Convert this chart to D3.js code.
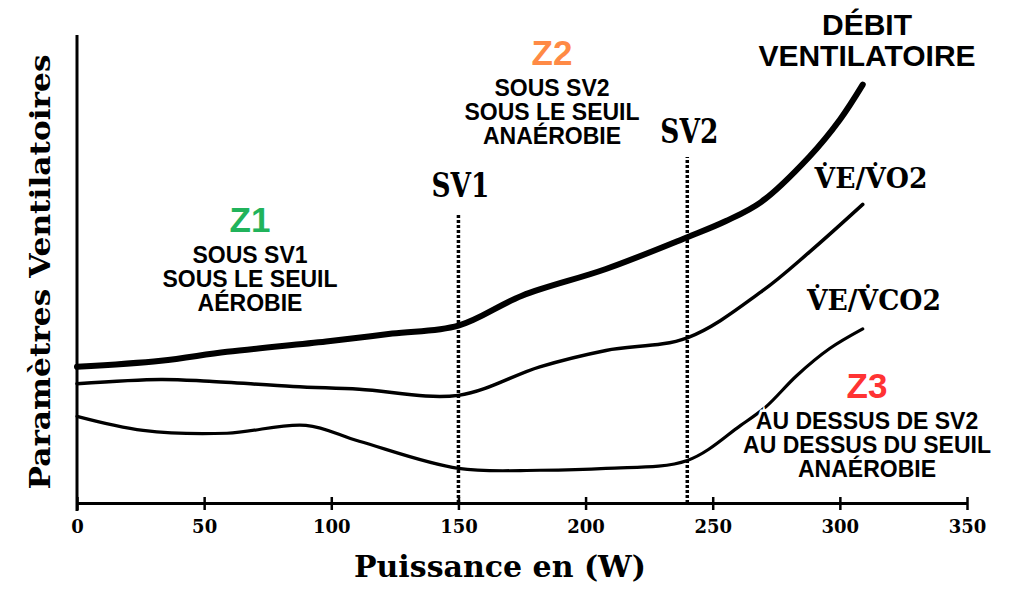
<!DOCTYPE html>
<html>
<head>
<meta charset="utf-8">
<script src="https://cdn.jsdelivr.net/npm/d3@7"></script>
<style>
  body { margin: 0; background: #fff; }
  svg { display: block; }
</style>
</head>
<body>
<div id="viz"></div>
<script>
const width = 1024;
const height = 594;

// x ticks (W)
const xTicks = [0, 50, 100, 150, 200, 250, 300, 350];

// thresholds
const thresholds = [
  {name: 'SV1', power: 150},
  {name: 'SV2', power: 240}
];

// Debit ventilatoire
const debitPower = [0, 33, 59, 98, 124, 150, 175, 208, 240, 255, 269, 288, 300, 309];
const debitValues = [29.1, 30.4, 32.3, 34.5, 36.2, 37.9, 44.3, 50, 56.8, 60.2, 64.3, 74, 81.9, 89.4];

// VE/VO2
const vo2Power = [0, 33, 52, 85, 111, 150, 182, 208, 240, 269, 288, 309];
const vo2Values = [25.5, 26.4, 26, 24.9, 24.3, 23, 29.1, 32.6, 35.3, 45.1, 53.6, 63.8];

// VE/VCO2
const vco2Power = [0, 26, 59, 90, 111, 150, 182, 208, 240, 261, 271, 283, 296, 309];
const vco2Values = [18.5, 15.5, 14.9, 16.6, 13.2, 7.4, 7, 7.4, 9.1, 16.6, 20.6, 27.2, 33, 37.2];

const svg = d3.select('#viz')
  .append('svg')
  .attr('width', width)
  .attr('height', height);

const xScale = d3.scaleLinear()
  .domain([0, 350])
  .range([77, 967]);

const yScale = d3.scaleLinear()
  .domain([0, 100])
  .range([503, 35]);

const serif = '"DejaVu Serif", serif';
const sans = '"Liberation Sans", Arial, sans-serif';

// x axis
const xAxis = svg.append('g')
  .attr('transform', `translate(0, ${yScale(0)})`)
  .call(d3.axisBottom(xScale).tickValues(xTicks).tickSize(7).tickPadding(10).tickSizeOuter(0));

xAxis.select('.domain').attr('stroke', '#000').attr('stroke-width', 3);
xAxis.selectAll('.tick line')
  .attr('y1', -6)
  .attr('stroke', '#000')
  .attr('stroke-width', 2.5);
xAxis.selectAll('.tick text')
  .attr('font-family', serif)
  .attr('font-weight', 'bold')
  .attr('font-size', 18)
  .attr('fill', '#000');

// y axis (no ticks)
svg.append('line')
  .attr('x1', xScale(0))
  .attr('x2', xScale(0))
  .attr('y1', yScale(0) + 8)
  .attr('y2', yScale(100))
  .attr('stroke', '#000')
  .attr('stroke-width', 3);

// axis titles
svg.append('text')
  .attr('x', 500)
  .attr('y', 577)
  .attr('text-anchor', 'middle')
  .attr('font-family', serif)
  .attr('font-weight', 'bold')
  .attr('font-size', 30)
  .text('Puissance en (W)');

svg.append('text')
  .attr('transform', 'translate(50, 272) rotate(-90)')
  .attr('text-anchor', 'middle')
  .attr('font-family', serif)
  .attr('font-weight', 'bold')
  .attr('font-size', 28)
  .attr('textLength', 435)
  .attr('lengthAdjust', 'spacingAndGlyphs')
  .text('Paramètres Ventilatoires');

// threshold lines
svg.selectAll('.threshold')
  .data(thresholds)
  .join('line')
  .attr('class', 'threshold')
  .attr('x1', d => xScale(d.power))
  .attr('x2', d => xScale(d.power))
  .attr('y1', yScale(0))
  .attr('y2', d => d.name === 'SV1' ? 213 : 157)
  .attr('stroke', '#000')
  .attr('stroke-width', 3.5)
  .attr('stroke-dasharray', '3,2');

svg.selectAll('.threshold-label')
  .data(thresholds)
  .join('text')
  .attr('class', 'threshold-label')
  .attr('transform', d => `translate(${xScale(d.power) + 2}, ${d.name === 'SV1' ? 197 : 143}) scale(0.8, 1)`)
  .attr('text-anchor', 'middle')
  .attr('font-family', serif)
  .attr('font-weight', 'bold')
  .attr('font-size', 33)
  .text(d => d.name);

// curves
const line = d3.line()
  .x(d => xScale(d[0]))
  .y(d => yScale(d[1]))
  .curve(d3.curveCatmullRom.alpha(0.5));

const series = [
  {power: debitPower, values: debitValues, width: 6},
  {power: vo2Power, values: vo2Values, width: 3.5},
  {power: vco2Power, values: vco2Values, width: 3.2}
];

series.forEach(s => {
  svg.append('path')
    .attr('d', line(s.power.map((p, i) => [p, s.values[i]])))
    .attr('fill', 'none')
    .attr('stroke', '#000')
    .attr('stroke-width', s.width)
    .attr('stroke-linecap', 'round')
    .attr('stroke-linejoin', 'round');
});

// curve labels
const curveLabels = [
  {text: 'V\u0307E/V\u0307O2', x: 871, y: 188},
  {text: 'V\u0307E/V\u0307CO2', x: 874, y: 310}
];

svg.selectAll('.curve-label')
  .data(curveLabels)
  .join('text')
  .attr('class', 'curve-label')
  .attr('transform', d => `translate(${d.x}, ${d.y}) scale(0.95, 1)`)
  .attr('text-anchor', 'middle')
  .attr('font-family', serif)
  .attr('font-weight', 'bold')
  .attr('font-size', 28)
  .text(d => d.text);

// debit title
const debitLines = ['DÉBIT', 'VENTILATOIRE'];
svg.selectAll('.debit')
  .data(debitLines)
  .join('text')
  .attr('class', 'debit')
  .attr('x', 867)
  .attr('y', (d, i) => 35 + i * 31)
  .attr('text-anchor', 'middle')
  .attr('font-family', sans)
  .attr('font-weight', 'bold')
  .attr('font-size', 30)
  .text(d => d);

// zones
const zones = [
  {name: 'Z1', color: '#21b35b', x: 250, y: 232, lines: ['SOUS SV1', 'SOUS LE SEUIL', 'AÉROBIE']},
  {name: 'Z2', color: '#ff8a45', x: 552, y: 65, lines: ['SOUS SV2', 'SOUS LE SEUIL', 'ANAÉROBIE']},
  {name: 'Z3', color: '#ff3333', x: 867, y: 398, lines: ['AU DESSUS DE SV2', 'AU DESSUS DU SEUIL', 'ANAÉROBIE']}
];

zones.forEach(z => {
  const g = svg.append('g');
  g.append('text')
    .attr('x', z.x)
    .attr('y', z.y)
    .attr('text-anchor', 'middle')
    .attr('font-family', sans)
    .attr('font-weight', 'bold')
    .attr('font-size', 35)
    .attr('fill', z.color)
    .text(z.name);
  g.selectAll('.zone-line')
    .data(z.lines)
    .join('text')
    .attr('class', 'zone-line')
    .attr('x', z.x)
    .attr('y', (d, i) => z.y + 31 + i * 24)
    .attr('text-anchor', 'middle')
    .attr('font-family', sans)
    .attr('font-weight', 'bold')
    .attr('font-size', 23)
    .attr('fill', '#000')
    .attr('stroke', '#fff')
    .attr('stroke-width', 5)
    .attr('paint-order', 'stroke')
    .text(d => d);
});
</script>
</body>
</html>
